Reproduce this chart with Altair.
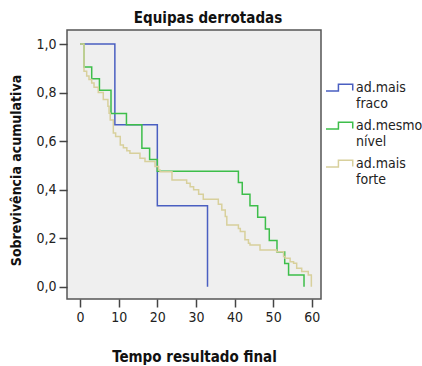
import altair as alt
import pandas as pd

groups = ["ad.mais fraco", "ad.mesmo nível", "ad.mais forte"]
colors = ["#4A5FC1", "#3DBE4A", "#D8D09C"]

fraco_t = [0, 9, 20, 33]
fraco_s = [1.0, 0.667, 0.333, 0.0]

mesmo_t = [0, 1, 3, 5, 8, 12, 16, 18, 20, 41, 42, 44, 46, 48, 49, 51, 53, 54, 58]
mesmo_s = [1.0, 0.905, 0.857, 0.810, 0.714, 0.667, 0.571, 0.524, 0.476, 0.429,
           0.381, 0.333, 0.286, 0.238, 0.190, 0.143, 0.095, 0.048, 0.0]

forte_t = [0, 1, 1.7, 2.3, 3.0, 3.6, 4.7, 6.0, 7.2, 7.5, 7.8, 8.6, 9.2, 10.4, 11.2,
           12.1, 12.9, 15.5, 16.8, 19.4, 20.3, 20.7, 23.8, 27.6, 28.5, 29.4, 30.7,
           31.9, 35.8, 36.7, 37.6, 38.0, 41.0, 41.5, 42.7, 43.6, 44.0, 46.6, 50.9,
           52.7, 53.1, 54.4, 55.3, 56.1, 57.4, 59.1, 59.9]
forte_s = [1.0, 0.888, 0.868, 0.854, 0.840, 0.822, 0.800, 0.771, 0.744, 0.715, 0.687,
           0.633, 0.619, 0.584, 0.573, 0.560, 0.550, 0.529, 0.516, 0.495, 0.481,
           0.474, 0.440, 0.426, 0.412, 0.399, 0.381, 0.360, 0.340, 0.316, 0.289,
           0.254, 0.240, 0.227, 0.193, 0.179, 0.172, 0.151, 0.144, 0.124, 0.117,
           0.103, 0.096, 0.076, 0.062, 0.048, 0.0]

x_ticks = [0, 10, 20, 30, 40, 50, 60]
y_ticks = [0.0, 0.2, 0.4, 0.6, 0.8, 1.0]

rows = []
for g, ts, ss in [(groups[0], fraco_t, fraco_s), (groups[1], mesmo_t, mesmo_s), (groups[2], forte_t, forte_s)]:
    for i, (t, s) in enumerate(zip(ts, ss)):
        rows.append({"group": g, "time": t, "surv": s, "idx": i})
df = pd.DataFrame(rows)

FONT = "Liberation Sans Narrow, DejaVu Sans Condensed, Arial Narrow, sans-serif"

chart = alt.Chart(df).mark_line(interpolate="step-after", strokeWidth=1.5).encode(
    x=alt.X("time:Q",
            scale=alt.Scale(domain=[-3.4, 62.4], nice=False, zero=False),
            axis=alt.Axis(values=x_ticks, title="Tempo resultado final", grid=False,
                          domain=False, tickSize=8, tickWidth=1.5, tickColor="#444",
                          labelPadding=3, labelFontSize=14, labelFont=FONT, labelColor="#222",
                          titleFont=FONT, titleFontSize=15, titleFontWeight="bold",
                          titleY=62, titleBaseline="alphabetic", titleColor="#111")),
    y=alt.Y("surv:Q",
            scale=alt.Scale(domain=[-0.051, 1.058], nice=False, zero=False),
            axis=alt.Axis(values=y_ticks, format=".1f", labelExpr="replace(datum.label, '.', ',')",
                          title="Sobrevivência acumulativa", grid=False, domain=False,
                          tickSize=8, tickWidth=1.5, tickColor="#444", labelPadding=3,
                          labelFontSize=14, labelFont=FONT, labelColor="#222",
                          titleFont=FONT, titleFontSize=14, titleFontWeight="bold",
                          titleX=-51, titleY=140, titleBaseline="middle", titleColor="#111")),
    color=alt.Color("group:N",
                    scale=alt.Scale(domain=groups, range=colors),
                    legend=alt.Legend(title=None, orient="none", legendX=258, legendY=43,
                                      symbolType="M-1,0.25 L-0.08,0.25 L-0.08,-0.25 L0.98,-0.25 L0.98,0.22",
                                      symbolSize=729, symbolStrokeWidth=1.5,
                                      labelExpr="split(datum.label, ' ')",
                                      labelFont=FONT, labelFontSize=14, labelColor="#222",
                                      labelLimit=200, labelOffset=2, rowPadding=0)),
    order="idx:Q",
).properties(
    width=254, height=269,
    title=alt.TitleParams("Equipas derrotadas", font=FONT, fontSize=15, fontWeight="bold",
                          anchor="middle", dx=14, color="#111"),
    autosize=alt.AutoSizeParams(type="none"),
    padding={"left": 67, "top": 30, "right": 101, "bottom": 67},
).configure(
    background="white",
    view=alt.ViewConfig(stroke="#555", strokeWidth=1.5, fill="#EFEFEF"),
)

chart.save("out.html", embed_options={"renderer": "svg", "actions": False})
